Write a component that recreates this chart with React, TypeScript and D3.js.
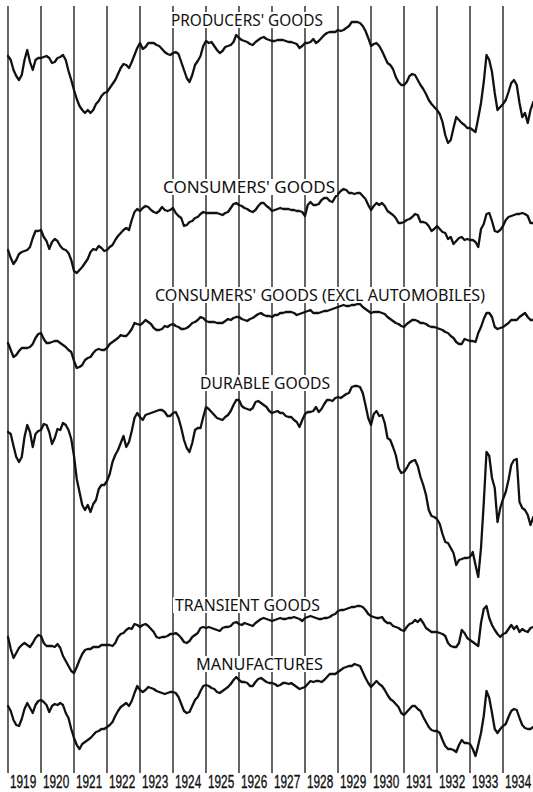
import React from "react";
import * as d3 from "d3";

// Monthly index values, Jan 1919 – Dec 1934 (arbitrary index units)
const YEARS = [1919, 1920, 1921, 1922, 1923, 1924, 1925, 1926, 1927, 1928, 1929, 1930, 1931, 1932, 1933, 1934];

const producersGoods = [
  104, 100, 90, 84, 80, 85, 100, 110, 98, 90, 100, 102,
  102, 103, 104, 102, 97, 98, 102, 103, 105, 100, 89, 80,
  70, 61, 54, 50, 47, 50, 47, 50, 56, 59, 64, 67,
  68, 72, 76, 80, 86, 92, 96, 95, 92, 98, 105, 112,
  117, 111, 113, 117, 117, 117, 115, 114, 111, 108, 106, 105,
  107, 108, 106, 98, 90, 82, 78, 85, 95, 99, 104, 114,
  119, 117, 118, 114, 110, 107, 109, 113, 114, 115, 118, 125,
  122, 120, 119, 118, 116, 115, 118, 120, 122, 123, 121, 120,
  119, 119, 120, 120, 120, 119, 118, 118, 117, 116, 112, 114,
  117, 117, 118, 121, 117, 119, 122, 125, 127, 128, 128, 128,
  130, 129, 130, 132, 134, 138, 138, 138, 137, 134, 129, 122,
  114, 116, 117, 114, 109, 103, 97, 95, 91, 83, 78, 75,
  75, 78, 84, 86, 85, 80, 75, 71, 66, 60, 56, 53,
  50, 46, 38, 25, 17, 20, 32, 43, 40, 37, 35, 32,
  32, 30, 28, 42, 57, 78, 105, 100, 88, 67, 50, 53,
  56, 60, 68, 77, 80, 75, 57, 43, 47, 37, 50, 58,
];

const consumersGoods = [
  30, 22, 16, 20, 26, 28, 29, 30, 33, 42, 49, 49,
  50, 43, 39, 31, 38, 41, 39, 34, 31, 30, 27, 20,
  9, 7, 10, 13, 17, 21, 28, 31, 30, 34, 32, 29,
  30, 33, 35, 40, 44, 47, 50, 52, 50, 60, 68, 71,
  69, 72, 74, 73, 70, 68, 67, 69, 73, 70, 69, 70,
  72, 67, 64, 62, 54, 55, 58, 59, 62, 63, 66, 68,
  67, 67, 67, 67, 67, 66, 65, 67, 68, 72, 76, 77,
  75, 74, 72, 71, 69, 68, 70, 74, 77, 77, 74, 72,
  69, 70, 71, 72, 71, 71, 71, 70, 70, 69, 69, 68,
  64, 75, 78, 75, 75, 76, 80, 82, 82, 79, 78, 83,
  86, 89, 91, 90, 87, 87, 86, 87, 87, 84, 81, 75,
  70, 74, 77, 75, 77, 74, 69, 67, 65, 62, 57, 57,
  58, 60, 61, 63, 66, 65, 58, 58, 57, 54, 49, 51,
  54, 51, 48, 47, 41, 43, 36, 39, 42, 43, 40, 41,
  40, 40, 38, 33, 51, 56, 66, 67, 59, 49, 48, 50,
  54, 60, 63, 64, 65, 66, 66, 67, 66, 64, 57, 57,
];

const consumersExclAutos = [
  37, 30, 23, 25, 29, 32, 32, 32, 33, 36, 42, 46,
  47, 41, 37, 37, 38, 39, 39, 37, 35, 33, 30, 28,
  19, 12, 13, 15, 20, 22, 23, 27, 30, 31, 30, 30,
  32, 36, 38, 40, 42, 45, 44, 44, 47, 51, 57, 56,
  55, 57, 60, 58, 56, 52, 50, 50, 51, 54, 53, 55,
  56, 54, 53, 51, 51, 52, 54, 57, 58, 60, 63, 62,
  59, 58, 58, 58, 57, 57, 57, 59, 61, 60, 62, 63,
  63, 61, 60, 59, 61, 62, 64, 66, 67, 65, 64, 64,
  63, 65, 65, 67, 67, 68, 68, 68, 67, 65, 66, 67,
  68, 69, 70, 67, 67, 67, 68, 69, 69, 70, 71, 72,
  73, 74, 75, 74, 74, 75, 75, 76, 76, 73, 71, 69,
  67, 68, 68, 68, 67, 66, 63, 61, 59, 57, 56, 54,
  53, 56, 58, 60, 60, 59, 57, 57, 56, 54, 53, 53,
  52, 51, 50, 48, 47, 44, 42, 38, 36, 36, 41, 40,
  39, 39, 38, 47, 53, 61, 67, 67, 63, 53, 51, 52,
  53, 55, 57, 60, 60, 60, 63, 65, 67, 63, 60, 60,
];

const durableGoods = [
  168, 166, 154, 143, 138, 143, 163, 175, 168, 153, 166, 169,
  170, 176, 175, 168, 156, 162, 171, 170, 177, 175, 170, 161,
  144, 121, 108, 95, 90, 95, 88, 96, 100, 111, 115, 115,
  119, 126, 138, 145, 150, 157, 164, 153, 158, 169, 182, 187,
  183, 180, 185, 186, 187, 188, 189, 190, 190, 188, 184, 184,
  187, 188, 182, 172, 160, 152, 148, 157, 170, 172, 172, 183,
  193, 191, 188, 185, 182, 181, 180, 183, 185, 189, 195, 200,
  200, 194, 192, 191, 190, 192, 198, 199, 197, 195, 193, 189,
  187, 188, 189, 187, 187, 184, 183, 183, 180, 178, 173, 180,
  186, 188, 188, 189, 193, 188, 191, 196, 200, 200, 199, 202,
  203, 202, 204, 206, 207, 213, 214, 214, 213, 207, 195, 182,
  175, 186, 189, 184, 185, 177, 162, 160, 153, 145, 132, 127,
  128, 132, 137, 139, 140, 134, 123, 115, 105, 90, 84, 83,
  81, 76, 66, 58, 57, 52, 47, 35, 40, 41, 42, 42,
  43, 48, 35, 23, 52, 97, 148, 144, 122, 112, 78, 92,
  101, 108, 120, 135, 140, 141, 98, 92, 90, 85, 75, 83,
];

const transientGoods = [
  53, 41, 32, 37, 42, 45, 47, 45, 43, 47, 52, 55,
  54, 47, 44, 44, 44, 43, 46, 42, 34, 29, 24, 19,
  17, 23, 30, 36, 40, 41, 41, 43, 43, 43, 45, 45,
  45, 45, 44, 47, 53, 56, 57, 60, 62, 61, 66, 65,
  63, 65, 66, 64, 61, 58, 53, 52, 53, 53, 54, 56,
  56, 57, 55, 52, 48, 47, 49, 53, 55, 57, 62, 63,
  62, 63, 62, 61, 60, 59, 62, 63, 63, 64, 67, 68,
  66, 65, 67, 66, 65, 64, 67, 69, 71, 72, 71, 70,
  69, 70, 71, 72, 71, 71, 72, 72, 73, 72, 71, 69,
  72, 73, 74, 73, 72, 71, 71, 72, 72, 73, 75, 76,
  79, 80, 80, 81, 82, 83, 83, 84, 84, 83, 80, 76,
  74, 73, 72, 72, 73, 69, 67, 67, 64, 63, 62, 60,
  59, 63, 66, 67, 70, 68, 71, 67, 62, 60, 58, 58,
  58, 57, 56, 54, 47, 44, 43, 43, 47, 60, 57, 52,
  50, 48, 46, 44, 67, 81, 84, 72, 65, 60, 56, 53,
  56, 57, 61, 65, 61, 64, 58, 61, 59, 58, 62, 63,
];

const manufactures = [
  64, 59, 50, 45, 44, 51, 61, 67, 62, 57, 65, 69,
  70, 68, 65, 58, 64, 66, 65, 67, 65, 57, 52, 41,
  32, 25, 21, 26, 28, 30, 32, 35, 38, 39, 41, 41,
  43, 45, 48, 54, 59, 63, 65, 67, 64, 69, 77, 84,
  80, 78, 80, 83, 82, 81, 79, 78, 77, 76, 77, 78,
  78, 77, 73, 66, 59, 57, 58, 64, 70, 73, 79, 84,
  85, 84, 82, 81, 78, 77, 79, 81, 83, 86, 90, 93,
  90, 88, 88, 87, 84, 84, 88, 91, 92, 90, 88, 87,
  87, 86, 84, 85, 87, 87, 86, 87, 85, 83, 81, 82,
  83, 86, 89, 88, 89, 89, 88, 90, 93, 96, 96, 96,
  98, 100, 102, 103, 104, 104, 106, 105, 104, 98, 92, 87,
  83, 86, 89, 86, 84, 80, 75, 71, 69, 66, 63, 57,
  55, 58, 61, 64, 64, 61, 59, 53, 48, 43, 40, 39,
  39, 37, 30, 24, 21, 21, 20, 18, 25, 30, 27, 27,
  26, 21, 14, 25, 37, 54, 79, 72, 57, 41, 37, 41,
  44, 46, 53, 59, 61, 60, 52, 45, 42, 41, 41, 43,
];

const SERIES_NAMES = [
  "PRODUCERS' GOODS",
  "CONSUMERS' GOODS",
  "CONSUMERS' GOODS (EXCL AUTOMOBILES)",
  "DURABLE GOODS",
  "TRANSIENT GOODS",
  "MANUFACTURES",
];
const SERIES_VALUES = [producersGoods, consumersGoods, consumersExclAutos, durableGoods, transientGoods, manufactures];

// layout (pixel positions kept separate from the data)
const PANEL_BASE = [160, 280, 380, 600, 690, 770];
const LABEL_POS = [
  { x: 171, y: 26, w: 152 },
  { x: 163, y: 193, w: 172 },
  { x: 155, y: 301, w: 330 },
  { x: 200, y: 389, w: 130 },
  { x: 175, y: 611, w: 145 },
  { x: 196, y: 670, w: 127 },
];

export default function App() {
  const W = 533;
  const H = 792;
  const nMonths = YEARS.length * 12;
  const x = d3.scaleLinear().domain([0, nMonths - 1]).range([8, 8 + (nMonths - 1) * (33 / 12)]);

  const titleFont = "'Noto Sans', 'DejaVu Sans', sans-serif";
  const yearFont = "'Liberation Sans', Arial, sans-serif";

  return (
    <svg
      width={W}
      height={H}
      viewBox={`0 0 ${W} ${H}`}
      style={{ position: "absolute", left: 0, top: 0, background: "#fff" }}
    >
      <rect x={0} y={0} width={W} height={H} fill="#fff" />
      {/* year division lines */}
      {YEARS.map((yr, i) => (
        <line
          key={yr}
          x1={x(i * 12)}
          x2={x(i * 12)}
          y1={6}
          y2={773}
          stroke="#111"
          strokeWidth={1.3}
        />
      ))}
      {/* series */}
      {SERIES_VALUES.map((vals, si) => {
        const base = PANEL_BASE[si];
        const y = d3.scaleLinear().domain([0, 100]).range([base, base - 100]);
        const path = d3
          .line<number>()
          .x((_, i) => x(i))
          .y((v) => y(v))
          .curve(d3.curveLinear)(vals);
        return (
          <path
            key={si}
            d={path || ""}
            fill="none"
            stroke="#111"
            strokeWidth={2.3}
            strokeLinejoin="round"
            strokeLinecap="round"
          />
        );
      })}
      {/* series titles */}
      {SERIES_NAMES.map((name, si) => {
        const p = LABEL_POS[si];
        return (
          <g key={name}>
            <rect x={p.x - 2} y={p.y - 14} width={p.w + 4} height={16} fill="#fff" />
            <text
              x={p.x}
              y={p.y}
              fontFamily={titleFont}
              fontSize={16}
              fill="#111"
              textLength={p.w}
              lengthAdjust="spacingAndGlyphs"
            >
              {name}
            </text>
          </g>
        );
      })}
      {/* year labels */}
      {YEARS.map((yr, i) => (
        <text
          key={`t${yr}`}
          transform={`translate(${x(i * 12 + 5.5)},788) scale(0.62,1)`}
          textAnchor="middle"
          fontFamily={yearFont}
          fontSize={19}
          fill="#111"
          stroke="#111"
          strokeWidth={0.4}
        >
          {yr}
        </text>
      ))}
    </svg>
  );
}
